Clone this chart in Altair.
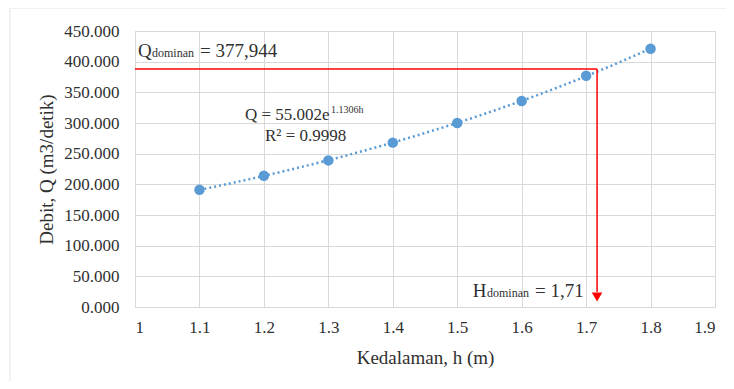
import altair as alt
import pandas as pd

# Data
h_vals = [1.1, 1.2, 1.3, 1.4, 1.5, 1.6, 1.7, 1.8]
q_vals = [191.0, 214.0, 239.0, 268.0, 300.0, 336.0, 377.0, 421.0]

x_ticks = [1.0, 1.1, 1.2, 1.3, 1.4, 1.5, 1.6, 1.7, 1.8, 1.9]
y_ticks = [0.0, 50.0, 100.0, 150.0, 200.0, 250.0, 300.0, 350.0, 400.0, 450.0]

# dominant-value guide lines (as drawn)
h_dom = 1.717
q_line = 388.0
q_arrow_end = 24.5
q_arrow_tip = 16.3

# annotation texts
ann_x = [1.0047, 1.0264, 1.1009, 1.1707, 1.3042, 1.2017, 1.5241, 1.5462, 1.6207]
ann_y = [408.4, 408.4, 408.4, 304.9, 316.3, 270.6, 15.8, 15.8, 15.8]
ann_text = ["Q", "dominan", "= 377,944", "Q = 55.002e", "1.1306h", "R\u00b2 = 0.9998",
            "H", "dominan", "= 1,71"]
ann_size = [19, 12, 19, 17, 10, 17, 19, 12, 19]

FONT = "Liberation Serif"
TXT = "#303030"
BLUE = "#5b9bd5"
RED = "#ff0000"
GRID = "#d9d9d9"

df = pd.DataFrame({"h": h_vals, "Q": q_vals})
ann = pd.DataFrame({"h": ann_x, "Q": ann_y, "t": ann_text, "fs": ann_size})
hline = pd.DataFrame({"h": [1.0], "h2": [h_dom], "Q": [q_line]})
vline = pd.DataFrame({"h": [h_dom], "Q": [q_line], "Q2": [q_arrow_end]})
tip = pd.DataFrame({"h": [h_dom], "Q": [q_arrow_tip]})

xscale = alt.Scale(domain=[1.0, 1.9], nice=False, zero=False)
yscale = alt.Scale(domain=[0, 450], nice=False)

xaxis = alt.Axis(values=x_ticks, labelExpr="datum.value == 1 ? '1' : format(datum.value, '.1f')",
                 title="Kedalaman, h (m)", grid=True, gridColor=GRID, domain=False, ticks=False,
                 labelOverlap=False, labelPadding=12, labelFont=FONT, labelFontSize=17, labelColor=TXT,
                 titleFont=FONT, titleFontSize=19, titleFontWeight="normal", titleColor=TXT,
                 titleX=290, titleY=50, titleBaseline="middle", titleAlign="center")
yaxis = alt.Axis(values=y_ticks, labelExpr="format(datum.value, '.3f')", title="Debit, Q (m3/detik)",
                 grid=True, gridColor=GRID, domain=False, ticks=False, labelPadding=16,
                 labelOverlap=False, labelFont=FONT, labelFontSize=17, labelColor=TXT,
                 titleFont=FONT, titleFontSize=19, titleFontWeight="normal", titleColor=TXT,
                 titleX=-89, titleY=138, titleAngle=270, titleBaseline="middle", titleAlign="center")


def X(field="h"):
    return alt.X(f"{field}:Q", scale=xscale, axis=xaxis)


def Y(field="Q"):
    return alt.Y(f"{field}:Q", scale=yscale, axis=yaxis)


base = alt.Chart(df)

frame = base.mark_rect(fill=None, stroke="#e3e3e3", strokeWidth=1).encode(
    x=alt.value(-125), x2=alt.value(592), y=alt.value(-23), y2=alt.value(353)
).transform_filter("datum.h == 1.1")

trend = base.transform_regression("h", "Q", method="exp", extent=[1.1, 1.8]).mark_line(
    color=BLUE, strokeWidth=2.5, strokeDash=[2, 3]
).encode(x=X(), y=Y())

pts = base.mark_circle(color=BLUE, size=110, opacity=1).encode(x=X(), y=Y())

hrule = alt.Chart(hline).mark_rule(color=RED, strokeWidth=1.5).encode(
    x=X(), x2="h2:Q", y=Y())
vrule = alt.Chart(vline).mark_rule(color=RED, strokeWidth=1.5).encode(
    x=X(), y=Y(), y2="Q2:Q")
arrow = alt.Chart(tip).mark_point(shape="triangle-down", filled=True, color=RED, size=110,
                                  opacity=1).encode(x=X(), y=Y())

texts = alt.Chart(ann).mark_text(font=FONT, color=TXT, align="left", baseline="alphabetic").encode(
    x=X(), y=Y(), text="t:N", size=alt.Size("fs:Q", scale=None))

chart = alt.layer(frame, trend, pts, hrule, vrule, arrow, texts).properties(
    width=580, height=276,
    autosize=alt.AutoSizeParams(type="none"),
    padding={"left": 127, "top": 23, "right": 11, "bottom": 74},
).configure_view(stroke=GRID, strokeWidth=1).configure(background="white")

chart.save("out.html", embed_options={"renderer": "svg", "actions": False})
